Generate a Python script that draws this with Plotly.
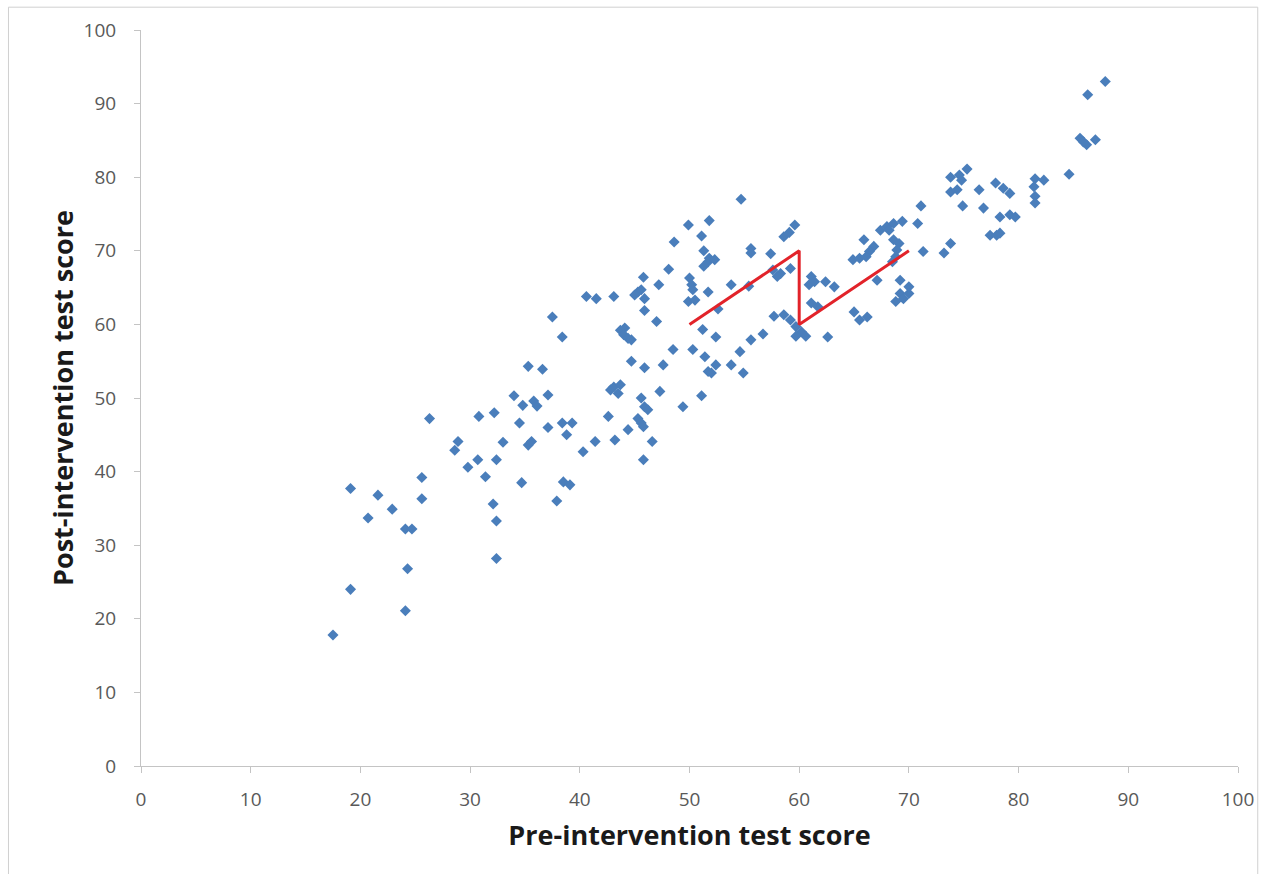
import plotly.graph_objects as go

# Pre-intervention (x) and post-intervention (y) test scores
pre_scores = [
    17.5, 19.1, 24.1, 24.3, 32.4, 32.4, 32.1, 24.1, 24.7, 20.7, 22.9, 21.6, 19.1, 25.6, 25.6, 26.3,
    30.8, 32.2, 34.0, 34.8, 35.8, 36.1, 37.1, 34.5, 37.1, 28.9, 28.6, 33.0, 35.3, 35.6, 30.7, 29.8,
    32.4, 31.4, 34.7, 37.9, 38.5, 39.1,
    35.3, 36.6, 37.5, 38.4,
    38.4, 39.3, 38.8, 40.3, 41.4, 43.2, 42.6, 44.4, 45.3, 45.6, 45.8, 46.6, 45.8,
    42.8, 43.1, 43.7, 43.5, 45.6, 45.9, 46.2, 47.3, 49.4, 51.1,
    44.7, 45.9, 47.6, 48.5, 50.3, 51.4, 52.4, 51.7, 52.0, 53.8, 54.6, 55.6, 56.7, 54.9,
    43.7, 44.1, 44.0, 44.4, 44.7, 51.2, 52.4, 52.6, 47.0, 45.9,
    40.6, 41.5, 43.1, 45.3, 45.9, 45.0, 45.6, 45.8, 47.2, 48.1,
    50.0, 50.2, 50.3, 49.9, 50.5, 51.7, 53.8, 55.4,
    48.6, 49.9, 51.1, 51.8, 51.3, 51.8, 51.7, 52.3, 51.3, 54.7, 55.6, 55.6, 57.4,
    57.6, 58.3, 58.0, 59.2,
    58.6, 59.1, 59.6,
    57.7, 58.6, 59.2, 59.7, 60.2, 60.6, 59.7,
    61.1, 60.9, 61.4, 62.4, 63.2, 61.1, 61.7, 62.6,
    65.0, 65.5, 66.2,
    64.9, 65.5, 65.9, 66.8, 66.4, 66.1,
    67.4, 68.0, 68.6, 69.4, 70.8, 71.1, 68.2,
    68.6, 69.1, 68.9, 68.8, 68.5, 71.3, 73.2, 73.8,
    67.1, 69.2, 70.0, 69.2, 69.5, 68.8, 70.0,
    73.8, 74.4, 74.6, 75.3, 73.8, 74.8, 76.4, 74.9, 76.8,
    77.9, 78.6, 79.2, 81.5, 82.3, 81.4, 81.5, 81.5,
    78.3, 79.2, 79.7, 77.4, 78.0, 78.3,
    84.6, 85.6, 86.2, 87.0, 85.9, 86.3, 87.9,
]
post_scores = [
    17.8, 24.0, 21.1, 26.8, 28.2, 33.3, 35.6, 32.2, 32.2, 33.7, 34.9, 36.8, 37.7, 36.3, 39.2, 47.2,
    47.5, 48.0, 50.3, 49.0, 49.6, 48.9, 50.4, 46.6, 46.0, 44.1, 42.9, 44.0, 43.6, 44.1, 41.6, 40.6,
    41.6, 39.3, 38.5, 36.0, 38.6, 38.2,
    54.3, 53.9, 61.0, 58.3,
    46.6, 46.6, 45.0, 42.7, 44.1, 44.3, 47.5, 45.7, 47.2, 46.6, 46.1, 44.1, 41.6,
    51.1, 51.5, 51.8, 50.6, 50.0, 48.8, 48.4, 50.9, 48.8, 50.3,
    55.0, 54.1, 54.5, 56.6, 56.6, 55.6, 54.5, 53.6, 53.4, 54.5, 56.3, 57.9, 58.7, 53.4,
    59.2, 59.5, 58.6, 58.1, 57.9, 59.3, 58.3, 62.1, 60.4, 61.9,
    63.8, 63.5, 63.8, 64.4, 63.5, 64.0, 64.7, 66.4, 65.4, 67.5,
    66.3, 65.4, 64.7, 63.1, 63.3, 64.4, 65.4, 65.2,
    71.2, 73.5, 72.0, 74.1, 70.0, 69.0, 68.5, 68.8, 67.9, 77.0, 70.3, 69.7, 69.6,
    67.4, 66.9, 66.5, 67.6,
    71.9, 72.5, 73.5,
    61.1, 61.3, 60.6, 59.7, 59.0, 58.4, 58.4,
    66.5, 65.4, 65.8, 65.8, 65.1, 62.9, 62.4, 58.3,
    61.7, 60.6, 61.0,
    68.8, 69.0, 71.5, 70.6, 69.9, 69.2,
    72.8, 73.3, 73.7, 74.0, 73.7, 76.1, 72.8,
    71.5, 71.0, 70.1, 69.2, 68.5, 69.9, 69.7, 71.0,
    66.0, 66.0, 65.1, 64.2, 63.5, 63.1, 64.2,
    78.0, 78.3, 80.3, 81.1, 80.0, 79.6, 78.3, 76.1, 75.8,
    79.2, 78.5, 77.8, 79.8, 79.6, 78.7, 77.4, 76.5,
    74.6, 74.9, 74.6, 72.1, 72.1, 72.4,
    80.4, 85.3, 84.4, 85.1, 84.8, 91.2, 93.0,
]

# Red zig-zag overlay line
line_x = [50, 60, 60, 70]
line_y = [60, 70, 60, 70]

tick_vals = [0, 10, 20, 30, 40, 50, 60, 70, 80, 90, 100]
x_title = "Pre-intervention test score"
y_title = "Post-intervention test score"

FONT = "Open Sans, Lato, sans-serif"

axis_common = dict(
    range=[0, 100], tickvals=tick_vals, showgrid=False, zeroline=False,
    showline=True, linecolor="#C4C4C4", linewidth=1,
    ticks="outside", tickcolor="#C4C4C4", ticklen=6, tickwidth=1,
    tickfont=dict(family=FONT, size=19, color="#595959"),
    fixedrange=True,
)

fig = go.Figure()
fig.add_trace(go.Scatter(
    x=pre_scores, y=post_scores, mode="markers",
    marker=dict(symbol="diamond", size=8.5, color="#4A7EBB", line=dict(width=0)),
    showlegend=False, hoverinfo="x+y",
))
fig.add_trace(go.Scatter(
    x=line_x, y=line_y, mode="lines",
    line=dict(color="#E2232A", width=3),
    showlegend=False, hoverinfo="skip",
))

fig.update_layout(
    width=1266, height=874,
    margin=dict(l=141, r=24, t=30, b=108),
    paper_bgcolor="white", plot_bgcolor="white",
    xaxis=dict(**axis_common, ticklabelstandoff=10,
               title=dict(text=x_title, standoff=15,
                          font=dict(family=FONT, size=27, color="#1A1A1A", weight="bold"))),
    yaxis=dict(**axis_common, ticklabelstandoff=14,
               title=dict(text=y_title, standoff=2,
                          font=dict(family=FONT, size=27, color="#1A1A1A", weight="bold"))),
    shapes=[dict(type="rect", xref="paper", yref="paper",
                 x0=-0.1208, x1=1.018, y0=-0.2, y1=1.031,
                 line=dict(color="#D0D0D0", width=1), layer="below")],
)

fig.write_html("out.html")
